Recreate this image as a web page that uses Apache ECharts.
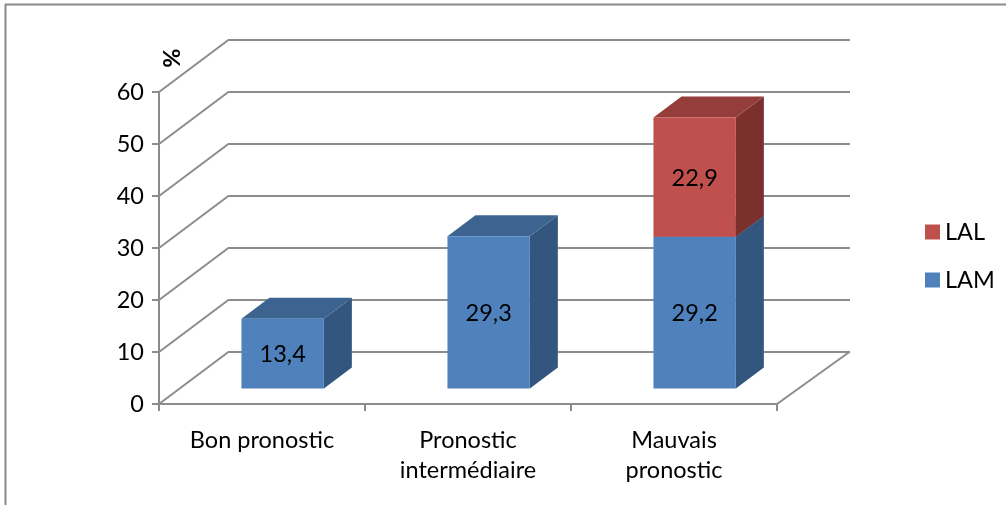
<!DOCTYPE html>
<html>
<head>
<meta charset="utf-8">
<script src="https://cdn.jsdelivr.net/npm/echarts@6/dist/echarts.min.js"></script>
<style>
  html, body { margin: 0; padding: 0; background: #fff; }
  #chart { width: 1006px; height: 505px; }
</style>
</head>
<body>
<div id="chart"></div>
<script>
// Categories and values (percent)
const categories = ['Bon pronostic', 'Pronostic\nintermédiaire', 'Mauvais\npronostic'];
const lamValues = [13.4, 29.3, 29.2];
const lalValues = [null, null, 22.9];
const yTicks = [0, 10, 20, 30, 40, 50, 60];

const FONT = 'Lato, "Open Sans", sans-serif';
const FONT_SIZE = 23.5;
const AXIS_GREY = '#8c8c8c';
// Depth vector of the 3D box (front plane -> back wall), in pixels
const DEPTH = [70, -52.5];
const BAR_FRONT = 0.295;   // fraction of depth where bar fronts sit
const BAR_BACK = 0.695;    // fraction of depth where bar backs sit

const palette = {
  LAM: { front: '#4f81bd', top: '#3d6491', side: '#33567f' },
  LAL: { front: '#c0504d', top: '#953d3b', side: '#7b302e' }
};

function fmt(v) { return String(v).replace('.', ','); }

// Draws a 3D box per data item, stacked on an optional base array
function boxRenderer(colors, baseArr) {
  return function (params, api) {
    const i = api.value(0);
    const v = api.value(1);
    if (v == null || isNaN(v)) return;
    const base = baseArr ? (baseArr[i] || 0) : 0;
    const band = api.size([1, 0])[0];
    const w = band * 0.4;
    const pBot = api.coord([i, base]);
    const pTop = api.coord([i, base + v]);
    const fx = DEPTH[0] * BAR_FRONT, fy = DEPTH[1] * BAR_FRONT;
    const ddx = DEPTH[0] * (BAR_BACK - BAR_FRONT), ddy = DEPTH[1] * (BAR_BACK - BAR_FRONT);
    const x0 = pBot[0] - w / 2 + fx, x1 = pBot[0] + w / 2 + fx;
    const yb = pBot[1] + fy, yt = pTop[1] + fy;
    return {
      type: 'group',
      children: [
        { type: 'polygon', shape: { points: [[x1, yt], [x1, yb], [x1 + ddx, yb + ddy], [x1 + ddx, yt + ddy]] },
          style: { fill: colors.side } },
        { type: 'polygon', shape: { points: [[x0, yt], [x1, yt], [x1 + ddx, yt + ddy], [x0 + ddx, yt + ddy]] },
          style: { fill: colors.top } },
        { type: 'rect', shape: { x: x0, y: yt, width: w, height: yb - yt },
          style: { fill: colors.front } },
        { type: 'text', x: (x0 + x1) / 2, y: (yt + yb) / 2 + 1,
          style: { text: fmt(v), align: 'center', verticalAlign: 'middle',
                   fontSize: FONT_SIZE, fontFamily: FONT, fill: '#000' } }
      ]
    };
  };
}

// Side-wall diagonals and the right edge of the floor
function wallRenderer(params, api) {
  const v = api.value(1);
  const p = api.coord([0, v]);
  const cs = params.coordSys;
  const lineStyle = { stroke: AXIS_GREY, lineWidth: 2 };
  const children = [{
    type: 'line',
    shape: { x1: cs.x, y1: p[1], x2: cs.x + DEPTH[0], y2: p[1] + DEPTH[1] },
    style: lineStyle
  }];
  if (v === yTicks[0]) {
    children.push({
      type: 'line',
      shape: { x1: cs.x + cs.width, y1: p[1], x2: cs.x + cs.width + DEPTH[0] + 3, y2: p[1] + DEPTH[1] },
      style: lineStyle
    });
  }
  return { type: 'group', children: children };
}

const chart = echarts.init(document.getElementById('chart'), null, { renderer: 'canvas' });

chart.setOption({
  animation: false,
  backgroundColor: '#fff',
  textStyle: { fontFamily: FONT },
  grid: [
    { left: 159, top: 92, width: 618, height: 312 },
    { left: 229, top: 39.5, width: 621, height: 312 }
  ],
  xAxis: [
    {
      type: 'category', gridIndex: 0, data: categories, boundaryGap: true,
      axisLine: { lineStyle: { color: AXIS_GREY, width: 2 } },
      axisTick: { show: true, length: 7, interval: 0, lineStyle: { color: AXIS_GREY, width: 2 } },
      axisLabel: { color: '#000', fontSize: FONT_SIZE, fontFamily: FONT, lineHeight: 30, margin: 21, interval: 0 },
      splitLine: { show: false }
    },
    { type: 'value', gridIndex: 1, show: false, min: 0, max: 1 }
  ],
  yAxis: [
    {
      type: 'value', gridIndex: 0, min: yTicks[0], max: yTicks[yTicks.length - 1], interval: 10,
      axisLine: { show: true, lineStyle: { color: AXIS_GREY, width: 2 } },
      axisTick: { show: true, length: 7, lineStyle: { color: AXIS_GREY, width: 2 } },
      axisLabel: { color: '#000', fontSize: FONT_SIZE, fontFamily: FONT, margin: 15 },
      splitLine: { show: false }
    },
    {
      type: 'value', gridIndex: 1, min: yTicks[0], max: yTicks[yTicks.length - 1], interval: 10,
      axisLine: { show: false }, axisTick: { show: false }, axisLabel: { show: false },
      splitLine: { show: true, lineStyle: { color: AXIS_GREY, width: 2 } }
    }
  ],
  legend: {
    data: ['LAL', 'LAM'],
    orient: 'vertical',
    left: 920, top: 215,
    itemWidth: 15, itemHeight: 15, itemGap: 24,
    icon: 'rect',
    textStyle: { color: '#000', fontSize: FONT_SIZE, fontFamily: FONT }
  },
  graphic: [
    { type: 'line', shape: { x1: 5, y1: 4.5, x2: 1006, y2: 4.5 }, style: { stroke: '#8a8a8a', lineWidth: 2 } },
    { type: 'line', shape: { x1: 5.5, y1: 4, x2: 5.5, y2: 505 }, style: { stroke: '#8a8a8a', lineWidth: 2 } },
    { type: 'text', x: 172, y: 58, rotation: Math.PI / 2,
      style: { text: '%', align: 'center', verticalAlign: 'middle', fontSize: FONT_SIZE,
               fontWeight: 'bold', fontFamily: FONT, fill: '#000' } }
  ],
  series: [
    {
      type: 'custom', name: 'walls', xAxisIndex: 0, yAxisIndex: 0, silent: true, z: 1,
      data: yTicks.map(v => [0, v]),
      renderItem: wallRenderer
    },
    {
      type: 'custom', name: 'LAM', xAxisIndex: 0, yAxisIndex: 0, z: 3,
      itemStyle: { color: palette.LAM.front },
      data: lamValues.map((v, i) => [i, v]),
      encode: { x: 0, y: 1 },
      renderItem: boxRenderer(palette.LAM, null)
    },
    {
      type: 'custom', name: 'LAL', xAxisIndex: 0, yAxisIndex: 0, z: 4,
      itemStyle: { color: palette.LAL.front },
      data: lalValues.map((v, i) => [i, v]),
      encode: { x: 0, y: 1 },
      renderItem: boxRenderer(palette.LAL, lamValues)
    }
  ]
});
</script>
</body>
</html>
